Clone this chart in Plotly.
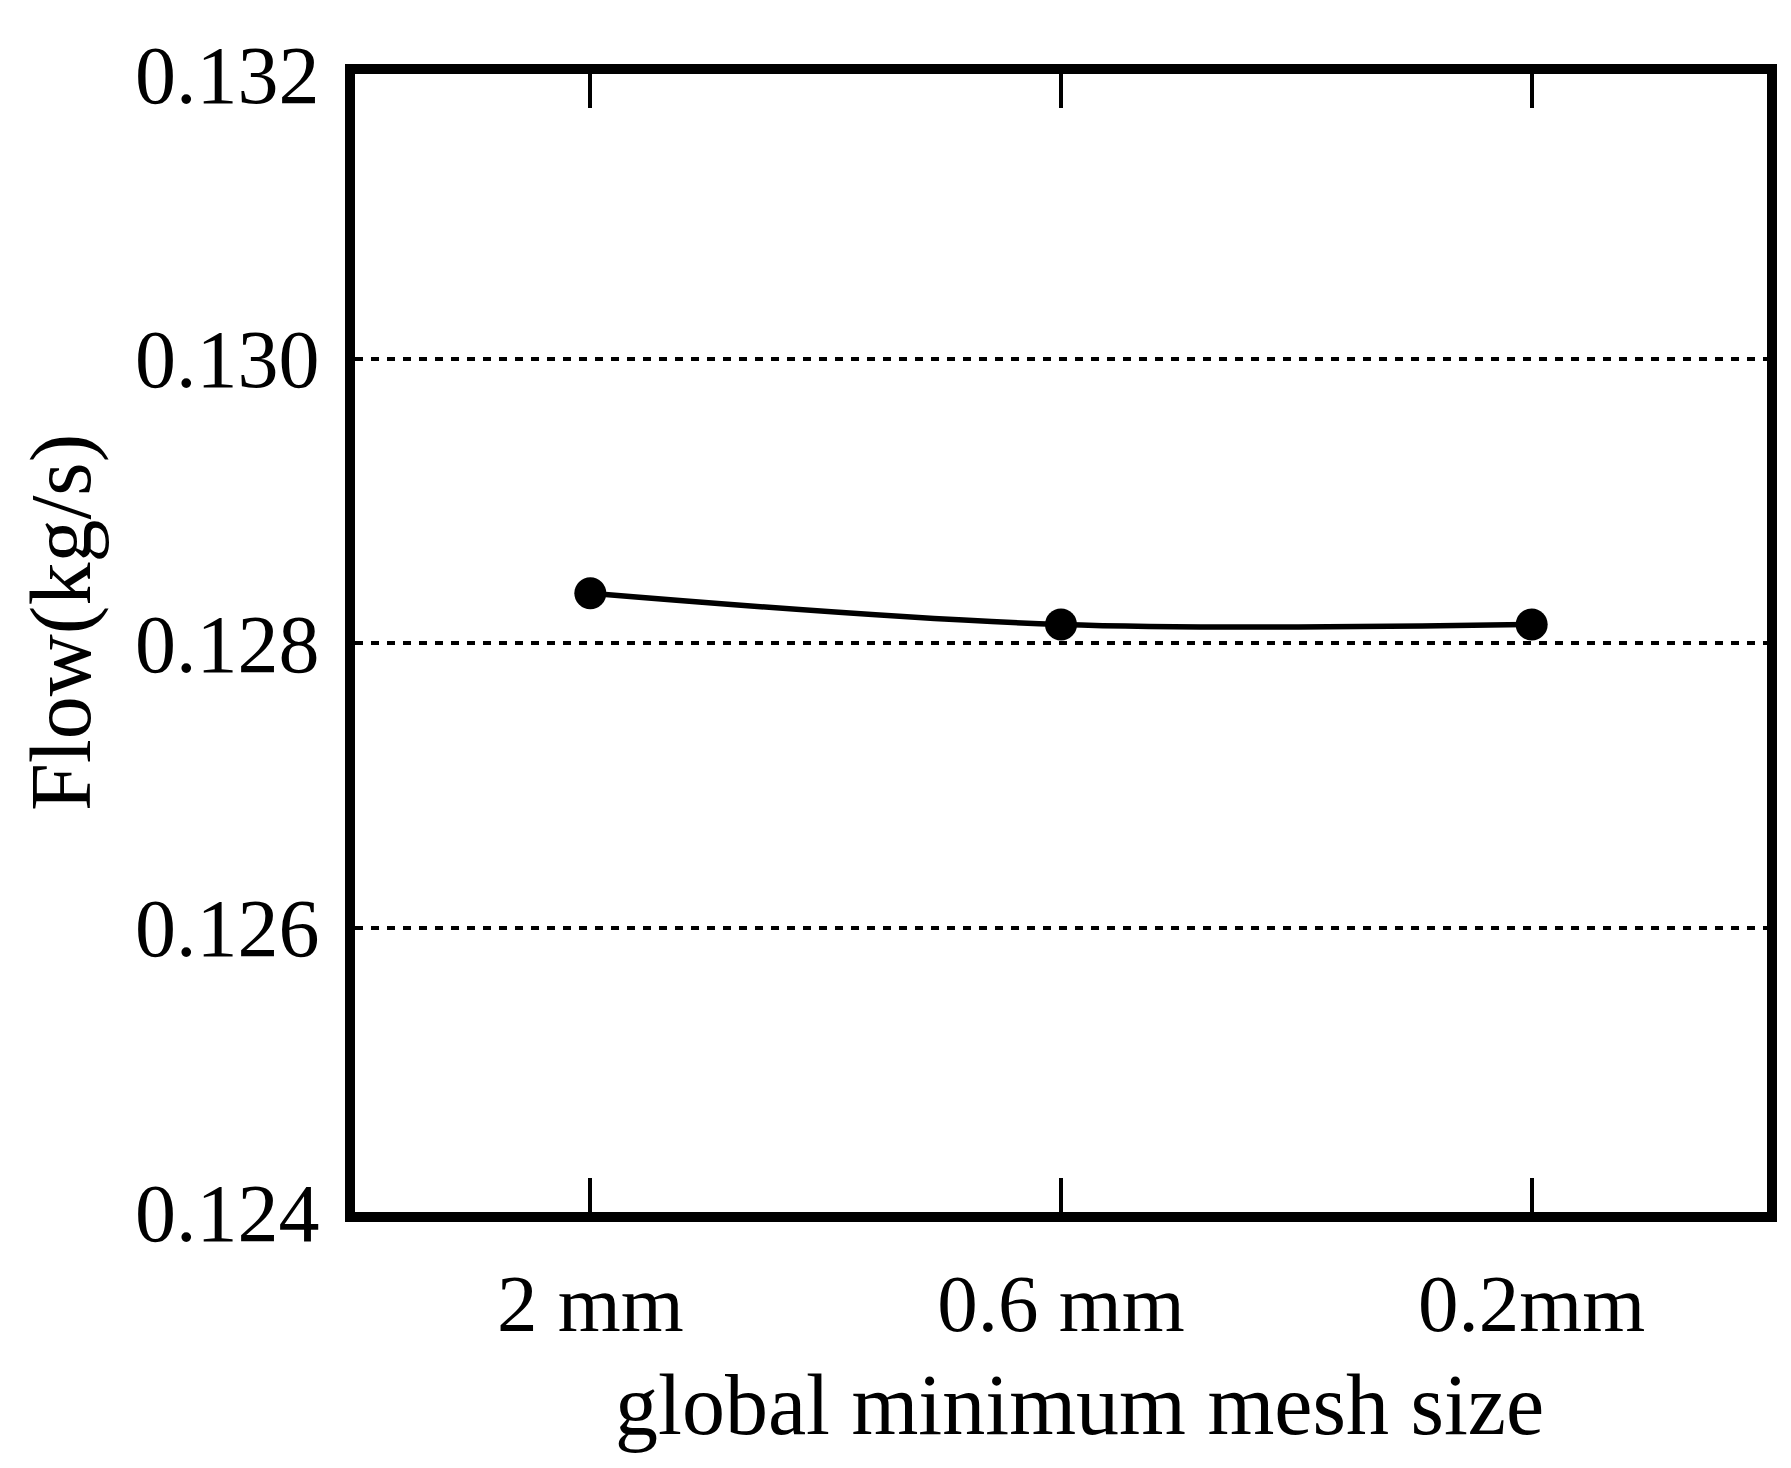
import plotly.graph_objects as go

categories = ["2 mm", "0.6 mm", "0.2mm"]
flow = [0.12835, 0.12813, 0.12813]
y_ticks = [0.124, 0.126, 0.128, 0.130, 0.132]
y_tick_labels = ["0.124", "0.126", "0.128", "0.130", "0.132"]
x_title = "global minimum mesh size"
y_title = "Flow(kg/s)"

FONT = "Liberation Serif, Times New Roman, serif"

L, R, T, B = 347, 32, 66, 264
W, H = 1791, 1468
plot_w = W - L - R
plot_h = H - T - B

fig = go.Figure()
fig.add_trace(go.Scatter(
    x=[0, 1, 2], y=flow, mode="lines+markers",
    line=dict(color="black", width=5.5, shape="spline", smoothing=1.0),
    marker=dict(color="black", size=32),
    showlegend=False,
))

fig.update_layout(
    width=W, height=H,
    paper_bgcolor="white", plot_bgcolor="white",
    margin=dict(l=L, r=R, t=T, b=B),
    font=dict(family=FONT, color="black", size=80),
)
fig.update_xaxes(
    range=[-0.5, 2.5],
    tickmode="array", tickvals=[0, 1, 2], ticktext=categories,
    ticks="inside", ticklen=34, tickwidth=3.5, tickcolor="black",
    showline=True, linecolor="black", linewidth=10, mirror="ticks",
    showgrid=False, zeroline=False,
    ticklabelstandoff=12,
    tickfont=dict(size=81, family=FONT),
)
fig.update_yaxes(
    range=[0.124, 0.132],
    tickmode="array", tickvals=y_ticks, ticktext=y_tick_labels,
    ticks="", showline=True, linecolor="black", linewidth=10, mirror=True,
    showgrid=True, gridcolor="black", gridwidth=3.5, griddash="8px,8px",
    zeroline=False,
    ticklabelstandoff=9,
    tickfont=dict(size=82, family=FONT),
)

# axis titles placed as annotations (paper coordinates)
fig.add_annotation(
    text=x_title, xref="paper", yref="paper",
    x=(1071 - L) / plot_w, y=0, yshift=-(1397 - (H - B)),
    xanchor="center", yanchor="middle", showarrow=False,
    font=dict(size=86, family=FONT, color="black"),
)
fig.add_annotation(
    text=y_title, xref="paper", yref="paper",
    x=0, xshift=53 - L, y=(H - B - 615) / plot_h,
    xanchor="center", yanchor="middle", textangle=-90, showarrow=False,
    font=dict(size=86, family=FONT, color="black"),
)

fig.write_html("out.html")
